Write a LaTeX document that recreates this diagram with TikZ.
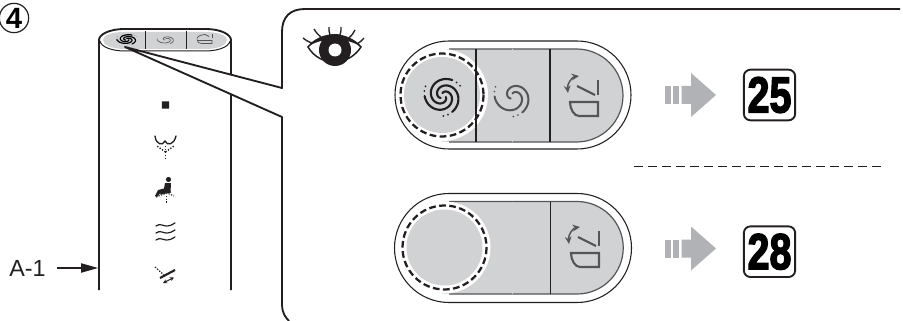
\documentclass[tikz,border=0pt]{standalone}
\usepackage{fontspec}
\setmainfont{Liberation Sans}
\newfontfamily\heavyfont{Liberation Sans}[BoldFeatures={FakeBold=3}]
\usetikzlibrary{arrows.meta}
\definecolor{pgrey}{RGB}{208,210,211}
\definecolor{arrgrey}{RGB}{176,178,181}
\definecolor{dk}{RGB}{35,31,32}
\definecolor{dimk}{RGB}{85,85,87}
\tikzset{
  x=0.75pt,y=-0.75pt,
  ln/.style={draw=dk,line width=1.4pt},
  thin ln/.style={draw=dk,line width=0.75pt},
  sect/.style={draw=dk,line width=1.2pt},
  seam/.style={draw=black!18,line width=0.4pt},
  dashring/.style={draw=dk,line width=1.7pt,dash pattern=on 5pt off 2.6pt},
  refbox/.style={draw=dk,line width=1.4pt,rounded corners=5pt,minimum width=38.5pt,minimum height=38pt,inner sep=0pt,font=\heavyfont\fontsize{38}{38}\bfseries},
  ic/.style={draw=dk,line width=0.85pt,line cap=round},
}
% #1 scope options, #2 list of arm rotations, #3 line width, #4 dot radius
\newcommand{\myswirl}[4]{%
  \begin{scope}[#1]
    \foreach \a in {#2}{
      \draw[line width=#3,line cap=round] plot[smooth,domain=0:280,samples=30] ({(3+\x*0.055)*cos(\x+\a+20)},{(3+\x*0.055)*sin(\x+\a+20)});
      \fill ({(3+295*0.055)*cos(295+\a+20)},{(3+295*0.055)*sin(295+\a+20)}) circle (#4);
      \fill ({(3+309*0.055)*cos(309+\a+20)},{(3+309*0.055)*sin(309+\a+20)}) circle (#4);
    }
  \end{scope}}
\newcommand{\myseat}[1]{%
  \begin{scope}[#1]
    \draw[line width=1.6pt,line join=miter] (-13,5) -- (15,5) -- (15,19) -- (-4,19) .. controls (-9,19) and (-13,12) .. (-13,5) -- cycle;
    \draw[line width=1.6pt] (15,-17) -- (15,-2);
    \draw[line width=1.6pt] (-6,-11) -- (12,-2);
    \draw[line width=1.1pt,{Stealth[length=5.5pt,width=5pt]}-{Stealth[length=5.5pt,width=5pt]}] (-4,-21) .. controls (-11,-20) and (-16,-13) .. (-15,-4);
  \end{scope}}
\begin{document}
\begin{tikzpicture}
\useasboundingbox (0,0) rectangle (903,321);
\fill[white] (0,0) rectangle (903,321);

% step number
\node[draw=dk,line width=0.9pt,circle,minimum size=22pt,inner sep=0pt,font=\fontsize{22}{22}\bfseries] (stepnum) at (14,18) {4};

% cylinder unit
\coordinate (cylTL) at (99,40);
\coordinate (cylTR) at (231,40);
\coordinate (cylBL) at (99,290);
\coordinate (cylBR) at (231,290);
\draw[ln] (cylBL) -- (cylTL) .. controls (99,35) and (108,29) .. (125,29) -- (205,29) .. controls (222,29) and (231,35) .. (cylTR) -- (cylBR);
\fill[pgrey] (103,40) .. controls (103,35) and (112,32) .. (125,32) -- (205,32) .. controls (218,32) and (227,35) .. (227,40) .. controls (227,45) and (218,49) .. (205,49) -- (125,49) .. controls (112,49) and (103,45) .. (103,40) -- cycle;
\draw[thin ln] (100,41) .. controls (101,47) and (112,51) .. (125,51) -- (205,51) .. controls (218,51) and (229,47) .. (230,41);
\draw[sect,line width=0.7pt] (145,31) -- (145,49);
\draw[sect,line width=0.7pt] (186,31) -- (186,49);
% small icons on top of cylinder
\myswirl{shift={(127,39.5)},yscale=0.28,xscale=0.55,color=black}{0,120,240}{0.9pt}{0.5}
\myswirl{shift={(166,39.5)},yscale=0.25,xscale=0.48,color=dimk}{120,240}{0.5pt}{0.4}
\begin{scope}[shift={(204,39.5)}]
  \draw[dimk,line width=0.55pt] (-7,0) .. controls (-7,3) and (-5,4) .. (-2,4) -- (8,4) -- (8,1) -- (-7,1);
  \draw[dimk,line width=0.55pt] (8,-5) -- (8,-1);
  \draw[dimk,line width=0.55pt] (-7,-1) .. controls (-6,-4) and (-2,-5) .. (1,-5) -- (5,-3);
\end{scope}

% icon column
\node[fill=dk,minimum size=5.6pt,inner sep=0pt,rounded corners=0.5pt] (stopicon) at (165.5,105) {};
\draw[ic,line width=1pt] (155,136) .. controls (156,145) and (163,146) .. (165,141) .. controls (167,146) and (174,145) .. (176,136);
\draw[dk,line width=1pt,dash pattern=on 1pt off 1.2pt] (165.5,146) -- (165.5,158);
\draw[dk,line width=1pt,dash pattern=on 1pt off 1.2pt] (165.5,152) -- (157,146);
\draw[dk,line width=1pt,dash pattern=on 1pt off 1.2pt] (165.5,152) -- (174,146);
\fill[dk] (168.5,179.5) circle (2.6);
\fill[dk] (165,183) -- (171,183) -- (170.5,192) -- (160,193.5) -- (157,197) -- (155,196) -- (158,190) -- (164,188.5) -- cycle;
\draw[dk,line width=0.9pt] (160,194) -- (171,192);
\draw[dk,line width=0.8pt,dash pattern=on 1pt off 1pt] (156,197) -- (167,193) -- (174,196);
\draw[dk,line width=1pt,dash pattern=on 1pt off 1pt] (166.7,196) -- (166.7,203);
\foreach \w in {0,7,14}{
  \draw[ic,line width=0.9pt] (156,\w+226) .. controls (160,\w+223) and (163,\w+226) .. (166,\w+226) .. controls (170,\w+226) and (172,\w+225) .. (175,\w+223);
}
\draw[dk,line width=1.6pt] (160,278) -- (175,270);
\draw[dk,line width=0.9pt,dash pattern=on 1pt off 1.1pt] (155,267) -- (164,275);
\draw[dk,line width=0.7pt,{Stealth[length=3pt,width=3pt]}-{Stealth[length=3pt,width=3pt]}] (163,283) -- (174,277.5);

% A-1 label
\node[font=\fontsize{17.5}{18}\selectfont,text=dk,inner sep=0pt,anchor=west] (aone) at (9,268) {A-1};
\coordinate (atip) at (98,268);
\draw[dk,line width=0.8pt,-{Stealth[length=12.75pt,width=7pt,inset=0pt]}] (aone.east) ++(11,0) -- (atip);

% callout
\coordinate (wedge) at (125,47);
\fill[white] (wedge) -- (282,88) -- (282,117) -- cycle;
\draw[ln,line join=round] (900,9) -- (305,9) .. controls (290,9) and (282,17) .. (282,32) -- (282,88) -- (wedge) -- (282,117) -- (282,305) .. controls (282,312) and (285,317) .. (289,321);

% eye
\begin{scope}[shift={(334,50)}]
  \draw[dk,line width=1.1pt] (-26,-3) .. controls (-14,-18) and (14,-18) .. (27,-3) .. controls (14,17) and (-14,17) .. (-26,-3) -- cycle;
  \fill[dk] (-26,-3) .. controls (-14,-20) and (14,-20) .. (27,-3) .. controls (14,-13) and (-14,-13) .. (-26,-3) -- cycle;
  \fill[dk] (1,0) circle (16);
  \fill[white] (1,0) circle (6.5);
  \foreach \xa/\ya/\xb/\yb/\ba in {-22/-7/-31/-12/10,-13/-13/-20/-21/10,-4/-15/-5/-23/10,6/-15/7/-23/-10,15/-12/21/-20/-10,23/-6/30/-12/-10}{
    \draw[dk,line width=1pt] (\xa,\ya) to[bend left=\ba] (\xb,\yb);
  }
\end{scope}

% upper pill
\fill[pgrey] (449,49) -- (576.5,49) arc (-90:90:46.5) -- (449,142) arc (90:270:46.5) -- cycle;
\draw[draw=dimk,line width=0.9pt] (449,49) -- (576.5,49) arc (-90:90:46.5) -- (449,142);
\draw[seam] (512.7,49) -- (512.7,142);
\fill[white] (442,95) circle (46);
\fill[pgrey] (442,95) circle (38);
\draw[sect] (475.7,49) -- (475.7,142);
\draw[sect] (550,49) -- (550,142);
\draw[dashring] (442,95) circle (41.5);
\draw[thin ln,line width=0.8pt] (449,41) -- (577,41) arc (-90:90:54) -- (449,149) arc (90:270:54) -- cycle;
\myswirl{shift={(443,96)},color=dk}{0,120,240}{1.6pt}{1}
\myswirl{shift={(513,96.5)},color=dimk}{120,240}{1.5pt}{0.95}
\myseat{shift={(583,97)},color=dimk}

% lower pill
\fill[pgrey] (449,201.5) -- (577,201.5) arc (-90:90:46.25) -- (449,294) arc (90:270:46.25) -- cycle;
\draw[draw=dimk,line width=0.9pt] (449,201.5) -- (577,201.5) arc (-90:90:46.25) -- (449,294);
\draw[seam] (512.7,201.5) -- (512.7,294);
\fill[white] (444.5,247.5) circle (46);
\fill[pgrey] (444.5,247.5) circle (38);
\draw[sect] (550.5,201.5) -- (550.5,294);
\draw[dashring] (444.5,247.5) circle (42);
\draw[thin ln,line width=0.8pt] (449,193.5) -- (577,193.5) arc (-90:90:54.5) -- (449,302.5) arc (90:270:54.5) -- cycle;
\myseat{shift={(584,248)},color=dimk}

% grey arrows
\foreach \y in {95,248.5}{
  \fill[arrgrey] (665,\y-9) rectangle (670.7,\y+9);
  \fill[arrgrey] (673.3,\y-9) rectangle (679.3,\y+9);
  \fill[arrgrey] (681.7,\y-9) -- (691,\y-9) -- (691,\y-22) -- (716,\y) -- (691,\y+22) -- (691,\y+9) -- (681.7,\y+9) -- cycle;
}

% ref boxes
\node[refbox] (refa) at (769.5,95) {\scalebox{0.78}[1]{25}};
\node[refbox] (refb) at (769.5,251.7) {\scalebox{0.78}[1]{28}};

% separator
\coordinate (sepa) at (634,166.7);
\coordinate (sepb) at (883,166.7);
\draw[draw=dk,line width=1.05pt,dash pattern=on 6.9pt off 3.6pt] (sepa) -- (sepb);
\end{tikzpicture}
\end{document}
